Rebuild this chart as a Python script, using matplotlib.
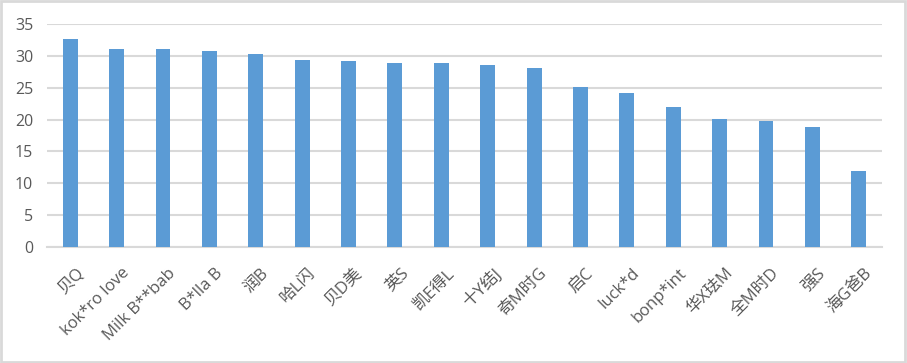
import matplotlib.pyplot as plt
import matplotlib.transforms as mtransforms
import numpy as np
from matplotlib.patches import Rectangle

plt.rcParams['font.family'] = ['Open Sans', 'Noto Sans CJK SC', 'DejaVu Sans']

labels = ["贝Q", "kok*ro love", "Milk B**bab", "B*lla B", "润B", "哈L闪", "贝D美", "英S",
          "凯E得L", "十Y结J", "奇M时G", "启C", "luck*d", "bonp*int", "华X珐M", "全M时D",
          "强S", "海G爸B"]
values = [32.7, 31.1, 31.1, 30.8, 30.3, 29.4, 29.2, 28.9, 28.9, 28.6, 28.1, 25.1,
          24.2, 22.0, 20.1, 19.8, 18.8, 11.9]
yticks = [0, 5, 10, 15, 20, 25, 30, 35]

fig = plt.figure(figsize=(9.07, 3.63), dpi=100)
ax = fig.add_axes([47 / 907, 1 - 247 / 363, 835 / 907, 223 / 363])

xs = np.arange(len(labels))
ax.bar(xs, values, width=0.32, color='#5b9bd5', zorder=3)

ax.set_xlim(-0.5, len(labels) - 0.5)
ax.set_ylim(0, 35)
ax.set_yticks(yticks)
ax.yaxis.grid(True, color='#d9d9d9', linewidth=1.5, zorder=0)
for s in ['top', 'right', 'left']:
    ax.spines[s].set_visible(False)
ax.spines['bottom'].set_color('#d9d9d9')
ax.spines['bottom'].set_linewidth(1.5)
ax.tick_params(axis='both', length=0, colors='#595959')
ax.tick_params(axis='y', pad=10, labelsize=11.5)
ax.set_xticks(xs)
ax.set_xticklabels(labels, rotation=45, ha='right', rotation_mode='anchor', fontsize=12)
ax.tick_params(axis='x', pad=13)
shift = mtransforms.ScaledTranslation(5 / 100, 0, fig.dpi_scale_trans)
for t in ax.get_xticklabels():
    t.set_transform(t.get_transform() + shift)

# outer frame
fig.patches.append(Rectangle((0.001, 0.002), 0.997, 0.995, transform=fig.transFigure,
                             fill=False, edgecolor='#d9d9d9', linewidth=2))

fig.savefig('out.png', dpi=100)
